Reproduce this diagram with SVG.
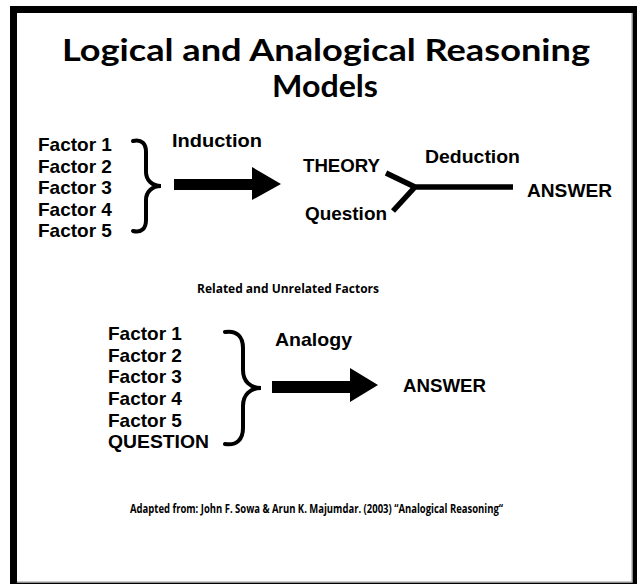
<svg xmlns="http://www.w3.org/2000/svg" width="637" height="584" viewBox="0 0 637 584">
<style>
.t{font-family:"Liberation Sans",Arial,sans-serif;font-weight:bold;fill:#000;font-size:19px}
.h{font-family:Lato,"Open Sans",sans-serif;font-weight:bold;fill:#000;font-size:31px}
.c{font-family:"Open Sans","DejaVu Sans Condensed",sans-serif;font-weight:bold;fill:#000;font-size:12.5px}
.br{fill:none;stroke:#000;stroke-width:4;stroke-linecap:round}
.ln{fill:none;stroke:#000;stroke-width:5.5;stroke-linecap:butt}
</style>
<rect x="0" y="0" width="637" height="584" fill="#fff"/>
<rect x="10" y="6" width="627" height="578" fill="#000"/>
<rect x="17" y="13" width="615" height="569" fill="#fff"/>
<path d="M632,13 V582 H17" fill="none" stroke="#bbb" stroke-width="1.5"/>
<g id="title">
<text class="h" x="326" y="61" text-anchor="middle" textLength="528" lengthAdjust="spacingAndGlyphs">Logical and Analogical Reasoning</text>
<text class="h" x="325" y="97" text-anchor="middle" textLength="106" lengthAdjust="spacingAndGlyphs">Models</text>
</g>
<g id="factors1">
<text class="t" x="38" y="151">Factor 1</text>
<text class="t" x="38" y="173">Factor 2</text>
<text class="t" x="38" y="194">Factor 3</text>
<text class="t" x="38" y="216">Factor 4</text>
<text class="t" x="38" y="237">Factor 5</text>
</g>
<g id="induction">
<text class="t" x="172" y="147" textLength="90" lengthAdjust="spacingAndGlyphs">Induction</text>
</g>
<g id="theory"><text class="t" x="303" y="172" textLength="77" lengthAdjust="spacingAndGlyphs">THEORY</text></g>
<g id="question1"><text class="t" x="305" y="220" textLength="82" lengthAdjust="spacingAndGlyphs">Question</text></g>
<g id="deduction"><text class="t" x="425" y="163" textLength="95" lengthAdjust="spacingAndGlyphs">Deduction</text></g>
<g id="answer1"><text class="t" x="527" y="197" textLength="85" lengthAdjust="spacingAndGlyphs">ANSWER</text></g>
<g id="related"><text class="c" x="197" y="293" textLength="182" lengthAdjust="spacingAndGlyphs">Related and Unrelated Factors</text></g>
<g id="factors2">
<text class="t" x="108" y="340">Factor 1</text>
<text class="t" x="108" y="362">Factor 2</text>
<text class="t" x="108" y="383">Factor 3</text>
<text class="t" x="108" y="405">Factor 4</text>
<text class="t" x="108" y="427">Factor 5</text>
<text class="t" x="108" y="448" textLength="101" lengthAdjust="spacingAndGlyphs">QUESTION</text>
</g>
<g id="analogy"><text class="t" x="275" y="346" textLength="77" lengthAdjust="spacingAndGlyphs">Analogy</text></g>
<g id="answer2"><text class="t" x="403" y="392" textLength="83" lengthAdjust="spacingAndGlyphs">ANSWER</text></g>
<g id="footer"><text class="c" x="130" y="513" textLength="373" lengthAdjust="spacingAndGlyphs">Adapted from: John F. Sowa &amp; Arun K. Majumdar. (2003) “Analogical Reasoning“</text></g>
<g id="connectors">
<path class="br" d="M133,141 C142,139 146,144 146,152 L146,172 C146,180 152,186 161,186 C152,186 146,192 146,200 L146,220 C146,228 142,233 133,231"/>
<path d="M174,179 H252 V167 L281,184 L252,200 V190 H174 Z" fill="#000"/>
<path class="ln" d="M386,173 L415,187 M393,211 L415,187 M413,187 H513"/>
<path class="br" d="M225,332 C237,330 243,337 243,348 L243,370 C243,381 250,388 261,388 C250,388 243,395 243,406 L243,428 C243,439 237,446 225,444"/>
<path d="M272,381 H350 V368 L378,385 L350,402 V393 H272 Z" fill="#000"/>
</g>
</svg>
